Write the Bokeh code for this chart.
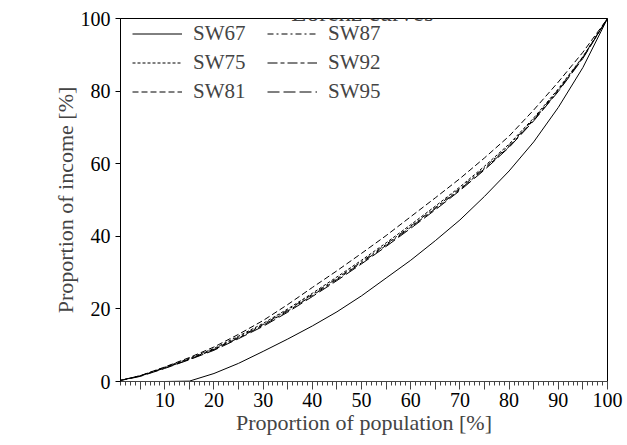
from bokeh.plotting import figure
from bokeh.models import (Range1d, FixedTicker, Legend, LegendItem, Label)
from bokeh.embed import file_html
from bokeh.resources import INLINE

population = [0, 5, 10, 15, 20, 25, 30, 35, 40, 45, 50, 55, 60, 65, 70, 75, 80, 85, 90, 95, 100]
sw67 = [0, 0, 0, 0.1, 2.2, 5.0, 8.3, 11.7, 15.3, 19.2, 23.6, 28.5, 33.4, 38.8, 44.5, 51.0, 58.0, 66.0, 75.5, 86.5, 100]
sw75 = [0, 1.6, 3.9, 6.4, 9.1, 12.5, 16.0, 20.0, 24.3, 28.8, 33.4, 38.2, 43.2, 48.3, 53.6, 59.3, 65.4, 72.6, 80.6, 89.5, 100]
sw81 = [0, 1.6, 4.0, 6.6, 9.5, 13.0, 16.8, 21.2, 25.9, 30.5, 35.3, 40.2, 45.4, 50.6, 55.9, 61.6, 67.6, 74.8, 82.5, 90.7, 100]
sw87 = [0, 1.5, 3.8, 6.2, 8.9, 12.2, 15.7, 19.7, 24.0, 28.4, 33.0, 37.8, 42.8, 47.9, 53.2, 58.9, 65.0, 72.3, 80.4, 89.4, 100]
sw92 = [0, 1.5, 3.7, 6.1, 8.8, 12.0, 15.5, 19.4, 23.7, 28.1, 32.7, 37.5, 42.5, 47.6, 52.9, 58.6, 64.7, 72.0, 80.1, 89.2, 100]
sw95 = [0, 1.4, 3.6, 6.0, 8.6, 11.8, 15.2, 19.1, 23.4, 27.8, 32.4, 37.2, 42.2, 47.3, 52.6, 58.3, 64.5, 71.8, 79.9, 89.0, 100]

series_names = ["SW67", "SW75", "SW81", "SW87", "SW92", "SW95"]
series_values = [sw67, sw75, sw81, sw87, sw92, sw95]
series_dash = ["solid", "3 2", "6 3", "6 3 2 3", "10 3 4 3", "12 4"]

x_ticks = list(range(5, 101, 5))
x_minor = list(range(1, 101))
y_ticks = [0, 20, 40, 60, 80, 100]

FONT = "Liberation Serif"

p = figure(width=627, height=445, output_backend="svg", toolbar_location=None,
           x_range=Range1d(1, 100), y_range=Range1d(0, 100),
           min_border_left=120, min_border_right=20, min_border_top=18, min_border_bottom=64)
p.grid.visible = False
p.outline_line_color = "black"
p.background_fill_color = "white"
p.border_fill_color = "white"

xa = p.xaxis[0]
xa.ticker = FixedTicker(ticks=x_ticks, minor_ticks=x_minor)
xa.major_label_overrides = {t: "" for t in x_ticks if t % 10 != 0}
xa.major_tick_out = 8
xa.major_tick_in = 0
xa.minor_tick_out = 4
xa.minor_tick_in = 0
xa.axis_line_color = "#444"
xa.major_tick_line_color = "#444"
xa.minor_tick_line_color = "#444"
xa.major_label_text_font = FONT
xa.major_label_text_font_size = "20px"
xa.major_label_text_color = "black"
xa.major_label_standoff = 3
xa.axis_label = "Proportion of population [%]"
xa.axis_label_text_font = FONT
xa.axis_label_text_font_size = "22px"
xa.axis_label_text_font_style = "normal"
xa.axis_label_standoff = 0

ya = p.yaxis[0]
ya.ticker = FixedTicker(ticks=y_ticks, minor_ticks=[])
ya.major_tick_out = 5
ya.major_tick_in = 0
ya.axis_line_color = "black"
ya.major_tick_line_color = "black"
ya.major_label_text_font = FONT
ya.major_label_text_font_size = "20px"
ya.major_label_text_color = "black"
ya.major_label_standoff = 5
ya.axis_label = "Proportion of income [%]"
ya.axis_label_text_font = FONT
ya.axis_label_text_font_size = "22px"
ya.axis_label_text_font_style = "normal"
ya.axis_label_standoff = 0

items = []
for name, vals, dash in zip(series_names, series_values, series_dash):
    r = p.line(population, vals, line_color="black", line_width=1, line_dash=dash)
    items.append(LegendItem(label=name, renderers=[r]))

legend = Legend(items=items, location=(12, 277), orientation="vertical", nrows=3,
                glyph_width=50, glyph_height=25, label_height=25, label_width=70,
                spacing=4, label_standoff=11, padding=0, margin=0,
                label_text_font=FONT, label_text_font_size="21px",
                border_line_color=None, background_fill_alpha=0)
p.add_layout(legend)

p.add_layout(Label(x=242, y=369, x_units="screen", y_units="screen", text="Lorenz curves",
                   text_font=FONT, text_font_size="25px", text_align="center",
                   text_baseline="alphabetic"))

open("out.html", "w").write(file_html(p, INLINE))
